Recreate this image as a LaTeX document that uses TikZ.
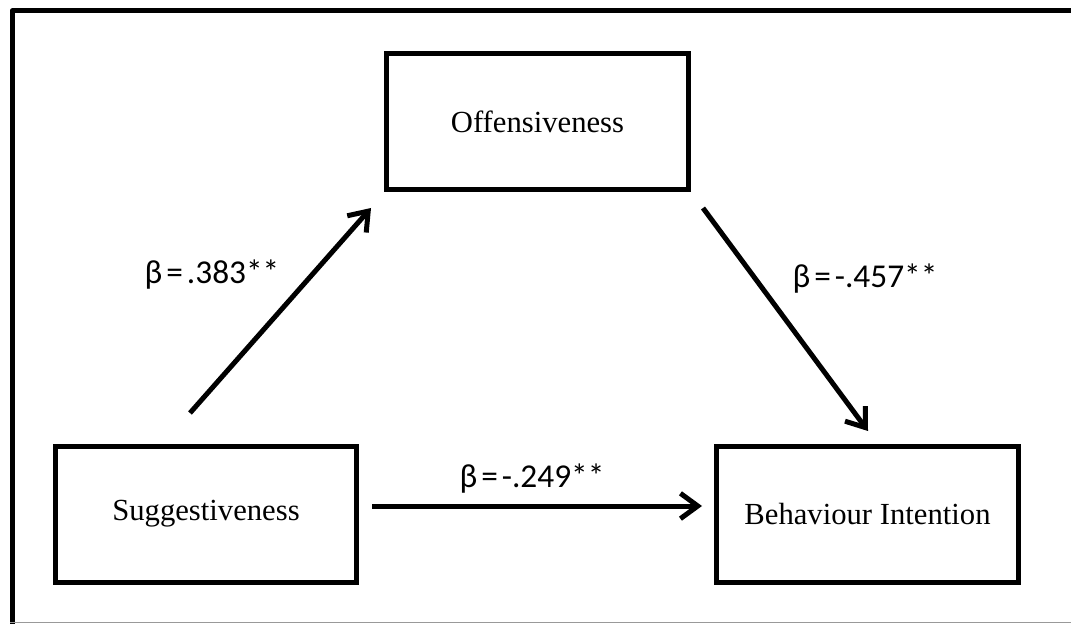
\documentclass[tikz,border=0pt]{standalone}
\usepackage{fontspec}
\setmainfont{Liberation Serif}
\newfontfamily\coeffont{Carlito}
\usetikzlibrary{arrows.meta}

\begin{document}
\begin{tikzpicture}[x=0.75pt,y=0.75pt,yscale=-1,xscale=1,
	varbox/.style={draw, line width=3.75pt, minimum width=226pt, minimum height=102pt, inner sep=0pt, font=\fontsize{23}{27}\selectfont},
	coef/.style={inner sep=0.75pt, font=\coeffont\fontsize{25}{29}\selectfont},
	link/.style={line width=3.75pt, -{Straight Barb[length=13pt,width=19pt]}}]
			\useasboundingbox (0,0) rectangle (1071,624);
			
			%Frame
			\draw [line width=3.75pt, line join=round]  (1071,11) -- (12,11) -- (12,624) ;
			\draw [black!40, line width=0.75pt]  (10,622) -- (1071,622) ;
			
			%Shape: Rectangle
			\node [varbox] (off) at (537.5,122) {Offensiveness};
			%Shape: Rectangle
			\node [varbox] (sug) at (206,514) {Suggestiveness};
			%Shape: Rectangle
			\node [varbox] (beh) at (867.5,514) {Behaviour Intention};
			
			%Arrow ends
			\coordinate (sugtop) at (190,413);
			\coordinate (offleft) at (371,208);
			\coordinate (offright) at (703,208);
			\coordinate (behtop) at (868,431);
			\coordinate (sugright) at (372,506);
			\coordinate (behleft) at (702,506);
			
			%Straight Lines
			\draw [link]  (sugtop) -- (offleft) ;
			%Straight Lines
			\draw [link]  (offright) -- (behtop) ;
			%Straight Lines
			\draw [link]  (sugright) -- (behleft) ;
			
			% Text Node
			\node [coef] (ca) at (212,275) {β\hspace{0.12em}=\hspace{0.12em}.383**};
			% Text Node
			\node [coef] (cb) at (865,279) {β\hspace{0.12em}=\hspace{0.12em}-.457**};
			% Text Node
			\node [coef] (cc) at (532,479) {β\hspace{0.12em}=\hspace{0.12em}-.249**};
			
		\end{tikzpicture}
\end{document}
